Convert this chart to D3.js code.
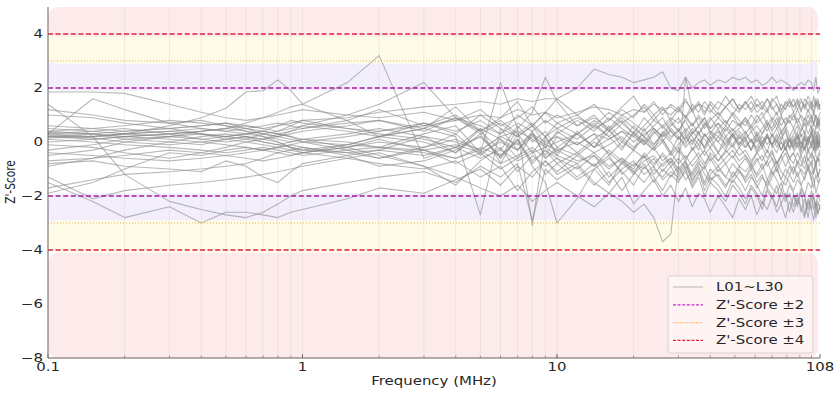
<!DOCTYPE html>
<html><head><meta charset="utf-8">
<script src="https://cdn.jsdelivr.net/npm/d3@7"></script>
<style>
body{margin:0;background:#fff}
text{font-family:"DejaVu Sans",sans-serif;fill:#262626}
</style></head>
<body><svg id="c" width="837" height="393"></svg>
<script>
// ---------- data ----------
const freqs = [0.1,0.15,0.2,0.3,0.4,0.5,0.6,0.7,0.8,0.9, 1,1.5,2,3,4,5,6,7,8,9,
  10,12,14,16,18,20,22,24,26,28, 30,32,34,36,38,40,43,46,49,52,
  55,58,61,64,67,70,73,76,79,82, 85,88,91,94,97,100,102,104,106,108];

const L01 = [1.85,1.85,1.8,1.4,1.1,0.9,0.8,0.9,1.0,1.1, 1.2,1.0,0.9,1.1,0.8,1.0,0.9,1.2,1.0,1.1, 0.9,1.1,1.3,1.2,1.0,1.2,1.1,1.4,1.2,1.3, 1.1,1.5,1.2,1.4,1.3,1.1,1.5,1.3,1.6,1.2, 1.4,1.7,1.3,1.5,1.2,1.6,1.4,1.1,1.5,1.3, 1.6,1.2,1.5,1.3,1.7,1.4,1.1,1.5,1.3,1.4];
const L02 = [0.3,1.6,1.2,0.7,0.5,0.4,0.3,0.2,0.1,0.0, 0.1,0.3,0.5,0.2,0.0,-0.3,0.2,0.4,0.1,-0.2, 0.0,0.3,-0.2,0.1,0.4,0.2,-0.1,0.3,0.6,0.2, 0.4,0.1,0.5,0.3,0.7,0.4,0.2,0.6,0.3,0.5, 0.8,0.4,0.6,0.3,0.7,0.5,0.9,0.4,0.6,0.8, 0.5,0.9,0.6,0.3,0.8,0.5,0.7,1.0,0.6,0.8];
const L03 = [-0.5,-0.3,0.0,0.2,0.4,0.5,0.7,0.9,1.1,1.3, 1.4,2.2,3.2,-0.6,-0.2,0.5,-0.8,0.3,-0.4,0.2, -0.5,0.4,-0.2,0.6,0.1,-0.3,0.5,-0.1,0.3,0.0, -0.4,0.2,-0.1,0.4,-0.3,0.1,0.5,-0.2,0.3,-0.1, 0.2,-0.3,0.4,0.0,-0.4,0.3,-0.2,0.1,0.5,-0.3, 0.0,0.4,-0.3,0.2,-0.1,0.5,0.0,-0.4,0.3,0.1];
const L04 = [0.6,0.5,0.4,0.5,0.6,0.7,0.6,0.5,0.6,0.7, 0.8,0.9,1.1,1.3,1.4,1.5,1.4,1.6,1.5,1.6, 1.6,2.0,2.7,2.5,2.4,2.2,2.3,2.4,2.6,2.0, 1.9,2.4,2.0,2.2,2.3,2.1,2.3,2.2,2.4,2.3, 2.4,2.2,2.3,2.1,2.2,2.4,2.2,2.3,2.2,2.1, 1.9,2.1,2.2,2.1,2.3,2.2,1.9,2.4,1.8,2.0];
const L05 = [-1.5,-2.2,-2.8,-2.4,-3.0,-2.6,-2.6,-2.7,-2.8,-2.6, -2.5,-2.1,-1.7,-1.9,-1.4,-1.0,-1.6,-0.9,-1.3,-0.7, -1.1,-0.5,-0.9,-0.3,-0.7,-1.0,-0.4,-0.8,-0.5,-0.9, -0.6,-1.0,-0.7,-0.4,-0.8,-0.5,-0.9,-0.6,-0.3,-0.7, -0.5,-0.9,-0.6,-1.0,-0.7,-0.4,-0.8,-0.5,-0.9,-0.6, -0.8,-0.4,-0.7,-1.0,-0.6,-0.9,-0.5,-0.8,-0.6,-0.7];
const L06 = [-1.3,-2.1,-1.8,-1.6,-1.5,-1.4,-1.3,-1.2,-1.1,-1.0, -0.9,-0.6,-0.4,-0.9,-1.6,-0.7,-0.2,-1.1,-0.5,-0.9, -0.6,-1.3,-0.8,-1.5,-1.0,-0.7,-1.2,-0.9,-1.4,-1.1, -1.3,-0.9,-1.4,-1.1,-1.6,-1.2,-0.9,-1.3,-1.5,-1.1, -1.4,-1.0,-1.5,-1.2,-1.7,-1.3,-1.0,-1.4,-1.6,-1.2, -1.5,-1.1,-1.6,-1.3,-1.0,-1.4,-1.7,-1.2,-1.5,-1.3];
const L07 = [-1.9,-1.5,-1.0,-0.4,-0.5,-0.3,-0.2,-0.3,-0.4,-0.5, -0.4,-0.2,0.1,-0.3,-0.6,-0.2,-0.5,0.0,-0.7,-0.3, -0.8,-0.4,-0.9,-0.5,-1.2,-0.8,-1.0,-0.6,-1.1,-0.7, -1.2,-0.8,-1.3,-0.9,-1.5,-1.0,-1.3,-1.7,-1.1,-1.4, -1.8,-1.3,-1.6,-2.0,-1.4,-1.7,-1.9,-1.5,-2.1,-1.6, -1.9,-2.3,-1.7,-2.0,-2.5,-1.8,-2.1,-2.4,-1.9,-2.2];
const L08 = [1.4,0.2,-1.2,-2.2,-2.5,-2.7,-2.8,-2.6,-2.3,-2.0, -1.8,-1.5,-1.3,-1.1,-1.5,-0.9,-1.3,-0.8,-2.9,-1.0, -1.4,-0.9,-1.6,-1.1,-1.8,-1.2,-0.8,-1.5,-1.0,-1.3, -0.9,-1.4,-1.1,-0.7,-1.2,-1.5,-1.0,-1.3,-0.8,-1.1, -1.3,-0.9,-1.2,-0.8,-1.4,-1.0,-0.7,-1.1,-1.3,-0.9, -1.2,-0.8,-1.1,-1.4,-0.9,-1.2,-1.0,-0.7,-1.3,-1.0];
const L09 = [0.2,0.3,0.1,0.0,-0.1,0.1,0.2,0.0,-0.1,0.0, 0.1,-0.2,-0.5,-0.9,-1.3,-1.7,-2.0,-1.6,-2.2,-1.8, -1.5,-2.0,-2.4,-1.9,-2.2,-2.6,-2.3,-2.8,-3.7,-3.4, -0.9,2.4,1.2,0.6,0.9,0.3,0.7,0.2,0.5,0.1, 0.4,0.0,0.3,-0.2,0.2,-0.1,0.3,0.0,-0.3,0.1, -0.2,0.2,-0.1,0.3,-0.3,0.0,0.2,-0.2,0.1,-0.1];
const L10 = [0.4,0.3,0.2,0.3,0.4,0.5,0.4,0.3,0.2,0.3, 0.4,0.6,0.8,0.5,0.2,-2.7,0.5,-0.3,0.3,-0.5, 0.2,-0.4,0.1,0.5,-0.2,0.3,0.0,-0.3,0.4,0.1, 0.5,0.0,0.3,0.6,0.2,0.4,0.0,0.5,0.2,0.4, 0.1,0.4,0.0,0.3,0.6,0.2,0.5,0.1,0.4,0.0, 0.3,0.6,0.2,0.4,0.0,0.3,0.5,0.1,0.4,0.2];
const L11 = [0.2,0.2,0.3,0.4,0.3,0.2,0.1,0.0,-0.1,-0.2, -0.3,-0.1,0.2,0.0,-0.4,0.3,-0.6,0.5,-3.1,0.2, -0.4,0.3,-0.2,0.4,0.0,0.6,0.2,-0.1,0.3,0.7, 0.4,0.8,0.3,0.6,0.9,0.5,0.7,0.4,0.8,0.6, 0.9,0.5,0.8,1.1,0.6,0.9,0.7,1.0,0.6,0.9, 1.1,0.7,1.0,0.8,1.2,0.9,0.6,1.0,0.8,1.1];
const L12 = [-0.4,-0.5,-0.6,-0.7,-0.6,-0.5,-0.4,-0.3,-0.2,-0.1, -0.2,-0.5,-0.9,-0.7,-0.3,0.2,-0.6,0.1,-0.9,-1.5, -3.0,-2.1,-1.0,-1.6,-0.7,-1.2,-0.5,-0.9,-0.4,-0.8, -0.3,-0.7,-0.2,-0.6,-0.9,-0.4,-0.7,-0.3,-0.6,-0.2, -0.5,-0.8,-0.4,-0.7,-0.3,-0.6,-0.9,-0.5,-0.2,-0.6, -0.4,-0.8,-0.5,-0.2,-0.7,-0.4,-0.6,-0.9,-0.5,-0.3];
const L13 = [0.3,0.2,0.3,0.2,0.1,0.2,0.3,0.4,0.3,0.2, 0.1,0.0,-0.2,0.3,0.6,-0.4,2.2,0.5,1.1,2.4, 1.5,0.6,1.0,0.4,0.8,0.3,0.9,0.5,0.2,0.6, 0.9,0.4,0.7,0.3,0.6,0.9,0.5,0.8,0.4,0.7, 0.3,0.6,0.2,0.5,0.8,0.4,0.7,0.3,0.6,0.2, 0.5,0.1,0.4,0.7,0.3,0.6,0.2,0.5,0.8,0.4];
const L14 = [0.0,0.1,0.2,0.3,0.4,0.5,0.6,0.5,0.4,0.5, 0.6,1.0,1.4,2.2,0.9,0.4,-0.3,0.6,0.0,0.4, -0.2,0.3,0.7,0.2,-0.3,0.4,0.0,0.5,0.1,-0.4, 0.2,-0.2,0.1,-0.3,0.3,0.0,-0.4,0.2,-0.1,0.3, -0.2,0.1,-0.4,0.0,0.3,-0.1,0.2,-0.3,0.0,0.2, -0.1,0.3,0.0,-0.3,0.2,-0.2,0.1,0.4,-0.1,0.2];
const L15 = [0.5,0.4,0.3,0.6,0.9,1.25,1.85,1.9,2.3,1.9, 1.4,0.8,0.2,0.5,0.9,0.3,0.7,0.2,0.6,-0.1, 0.3,0.8,0.4,0.9,0.5,0.2,0.6,1.0,0.5,0.8, 0.4,0.9,0.6,1.0,0.7,0.5,0.9,0.6,1.1,0.8, 0.6,1.0,0.7,0.9,1.2,0.8,0.5,0.9,0.7,1.0, 0.8,1.2,0.9,0.6,1.0,0.7,1.1,0.8,0.5,0.9];
const L16 = [-0.8,-0.7,-0.9,-1.0,-1.1,-0.7,-0.9,-1.3,-1.5,-1.1, -0.8,-0.5,-0.3,0.2,-0.4,0.5,0.1,-0.6,0.3,-0.2, 0.4,-0.1,0.3,-0.5,0.0,-0.3,0.2,-0.2,0.1,-0.4, -0.1,0.3,-0.3,0.1,-0.2,0.2,-0.4,0.0,0.3,-0.2, 0.1,-0.3,0.2,-0.1,0.3,-0.2,0.0,0.4,-0.3,0.1, -0.2,0.2,-0.4,0.1,-0.1,0.3,-0.3,0.0,0.2,-0.2];
const L17 = [0.35,0.3,0.4,0.5,0.6,0.7,0.5,0.3,0.2,0.1, 0.0,-0.1,-0.2,-0.3,-0.1,-0.4,0.0,-0.3,0.2,-0.1, -0.3,0.0,-0.4,-0.1,0.2,-0.2,0.1,-0.3,0.0,-0.5, -0.2,-0.6,-0.3,-0.1,-0.5,-0.2,-0.7,-0.4,-0.1,-0.5, -0.3,-0.7,-0.4,-0.2,-0.6,-0.3,-0.8,-0.5,-0.2,-0.6, -0.4,-0.1,-0.5,-0.8,-0.3,-0.6,-0.2,-0.5,-0.7,-0.4];
const L18 = [0.25,0.15,0.0,-0.1,0.0,0.1,0.2,0.1,0.0,-0.2, -0.3,-0.4,-0.3,-0.5,-0.2,-0.6,-0.3,-0.7,-0.4,-0.2, -0.5,-0.8,-0.4,-0.9,-0.6,-1.1,-0.7,-0.5,-0.9,-0.6, -1.0,-0.7,-1.2,-0.8,-1.0,-0.6,-1.1,-0.8,-1.3,-0.9, -1.1,-0.8,-1.3,-1.0,-0.7,-1.2,-0.9,-1.4,-1.0,-1.2, -0.9,-1.3,-1.0,-1.2,-0.8,-1.4,-1.1,-0.9,-1.3,-1.0];
const L19 = [0.1,0.0,-0.1,-0.2,-0.3,-0.4,-0.3,-0.2,-0.3,-0.4, -0.5,-0.3,-0.2,-0.4,-0.6,-0.3,-0.8,-0.5,-0.2,-0.6, -0.3,-0.7,-0.5,-1.0,-0.6,-0.9,-0.5,-1.2,-0.8,-0.6, -1.1,-0.7,-1.5,-1.0,-1.8,-1.3,-1.6,-2.0,-1.4,-1.7, -2.1,-1.6,-1.9,-2.3,-1.7,-2.0,-2.4,-1.8,-2.2,-1.9, -2.4,-1.9,-2.6,-2.1,-2.8,-2.0,-2.5,-2.2,-2.7,-2.3];
const L20 = [-0.9,-0.6,-0.3,0.0,0.2,0.3,0.2,0.1,0.3,0.4, 0.5,0.7,0.8,0.4,0.9,0.6,0.3,0.7,0.4,0.8, 0.5,0.9,0.6,1.1,0.7,1.0,1.3,0.8,1.2,1.0, 1.3,0.9,1.2,1.5,1.1,1.4,1.0,1.3,1.6,1.2, 1.5,1.1,1.4,1.2,1.6,1.3,1.0,1.4,1.2,1.5, 1.3,1.6,1.2,1.4,1.1,1.5,1.3,1.6,1.2,1.4];
const L21 = [1.0,0.9,0.7,0.5,0.3,0.1,0.0,-0.1,-0.2,-0.3, -0.4,-0.2,0.0,-0.2,0.1,-0.3,0.2,-0.1,0.3,0.0, 0.2,-0.1,0.3,0.1,0.4,0.0,0.3,0.5,0.2,0.4, 0.1,0.4,0.0,0.3,0.1,-0.2,0.2,-0.1,0.3,0.0, -0.2,0.1,-0.3,0.0,0.2,-0.1,0.1,-0.3,0.0,-0.2, 0.1,-0.2,0.0,-0.3,0.2,-0.1,-0.3,0.1,-0.2,0.0];
const L22 = [1.2,1.0,0.8,0.7,0.8,0.6,0.5,0.4,0.6,0.8, 0.7,0.5,0.4,0.6,0.8,1.2,0.6,0.9,1.3,0.7, 1.0,0.6,0.9,0.5,1.0,0.7,0.4,0.8,0.6,0.9, 0.7,1.0,0.6,0.9,0.5,0.8,1.1,0.7,1.0,0.6, 0.9,0.6,1.0,0.7,0.4,0.8,1.1,0.6,0.9,0.7, 1.0,0.7,0.4,0.9,0.6,1.0,0.7,0.5,0.9,0.6];
const L23 = [0.3,0.4,0.5,0.3,0.1,0.0,0.1,0.3,0.4,0.6, 0.8,0.5,0.3,0.1,-0.2,0.2,-0.5,0.1,-0.8,-0.3, -0.6,-1.0,-0.5,-1.3,-0.8,-1.1,-1.5,-1.0,-1.3,-0.9, -1.4,-1.1,-1.6,-1.2,-0.9,-1.4,-1.2,-1.6,-1.3,-1.0, -1.5,-1.2,-1.7,-1.3,-1.6,-1.1,-1.4,-1.8,-1.3,-1.5, -1.8,-1.4,-1.6,-2.0,-1.5,-1.7,-1.3,-1.9,-1.6,-1.4];
const L24 = [-0.1,-0.2,-0.4,-0.6,-0.4,-0.2,0.0,0.1,0.2,0.4, 0.6,0.4,0.2,0.7,0.3,1.0,0.5,0.2,0.6,1.1, 0.7,1.0,0.5,0.8,1.2,0.9,1.4,1.0,1.3,0.8, 1.2,0.9,1.4,1.1,1.5,1.2,0.9,1.3,1.0,1.4, 1.2,1.5,1.1,1.3,1.6,1.2,1.4,1.0,1.3,1.5, 1.1,1.4,1.6,1.2,1.5,1.3,1.0,1.4,1.6,1.2];
const L25 = [-1.7,-1.4,-1.2,-1.1,-1.0,-0.9,-0.8,-0.6,-0.4,-0.3, -0.2,-0.4,-0.6,-0.3,-0.8,-0.4,-1.0,-0.6,-0.3,-1.2, -0.8,-1.4,-1.0,-0.6,-1.1,-1.6,-0.9,-1.3,-1.8,-1.2, -1.5,-1.0,-1.7,-1.3,-2.0,-1.5,-1.8,-2.2,-1.6,-1.9, -2.3,-1.7,-2.0,-2.5,-1.8,-2.1,-1.6,-2.3,-1.9,-2.6, -2.0,-2.4,-1.8,-2.7,-2.1,-2.5,-1.9,-2.8,-2.2,-2.5];
const L26 = [0.2,0.1,0.2,0.1,0.0,-0.1,-0.2,-0.3,-0.2,-0.1, 0.0,0.2,0.4,0.7,0.4,0.8,0.3,1.0,0.6,0.2, 0.7,0.3,0.8,0.4,0.9,0.5,0.2,0.6,0.9,0.4, 0.1,0.5,0.2,-0.1,0.3,0.0,0.4,0.1,-0.2,0.2, 0.0,-0.3,0.1,-0.2,0.2,-0.1,-0.4,0.0,-0.2,0.1, -0.3,0.0,-0.2,0.2,-0.4,-0.1,0.1,-0.3,0.0,-0.2];
const L27 = [-0.3,-0.1,0.1,0.2,0.3,0.2,0.3,0.4,0.3,0.2, 0.0,-0.3,-0.6,-0.2,0.3,-0.5,0.1,-0.3,0.4,-0.6, -0.2,-0.5,0.0,-0.4,-0.8,-0.3,-0.6,-0.2,-0.7,-0.4, -0.8,-0.5,-0.9,-0.6,-0.3,-0.7,-0.4,-0.8,-0.5,-0.9, -0.6,-1.0,-0.7,-0.5,-0.9,-0.6,-1.1,-0.7,-0.4,-0.8, -1.1,-0.7,-0.9,-0.5,-1.0,-0.7,-1.2,-0.8,-0.6,-0.9];
const L28 = [0.4,0.5,0.6,0.8,0.7,0.6,0.4,0.2,0.0,-0.2, -0.4,-0.1,0.2,0.5,1.3,0.4,0.9,1.5,0.6,1.1, 1.6,1.0,1.4,0.8,1.3,1.7,1.1,1.5,1.0,1.4, 1.2,1.6,1.1,1.4,1.0,1.5,1.2,1.7,1.3,1.1, 1.5,1.2,1.6,1.3,1.1,1.5,1.7,1.2,1.4,1.6, 1.3,1.5,1.1,1.6,1.4,1.2,1.7,1.3,1.5,1.2];
const L29 = [-0.7,-0.6,-0.5,-0.3,-0.4,-0.5,-0.6,-0.7,-0.6,-0.5, -0.4,-0.6,-0.8,-1.0,-0.7,-1.3,-0.9,-1.8,-1.1,-0.7, -1.2,-0.8,-1.5,-1.9,-1.3,-2.3,-1.8,-1.4,-2.0,-1.6, -2.2,-1.7,-2.4,-1.9,-2.1,-2.6,-2.0,-2.4,-2.8,-2.1, -2.5,-2.0,-2.7,-2.2,-2.5,-2.0,-2.6,-2.3,-2.8,-2.2, -2.6,-2.1,-2.4,-2.8,-2.2,-2.5,-2.9,-2.3,-2.6,-2.4];
const L30 = [0.15,0.2,0.3,0.4,0.5,0.4,0.5,0.6,0.7,0.6, 0.5,0.8,1.2,0.6,1.0,0.4,0.8,0.3,0.7,0.2, 0.5,0.1,0.6,0.2,0.7,0.3,-0.1,0.4,0.0,0.5, 0.2,-0.1,0.4,0.1,-0.2,0.3,0.0,-0.3,0.2,-0.1, 0.3,0.0,-0.2,0.2,-0.1,0.3,0.0,-0.3,0.1,-0.2, 0.2,-0.1,0.3,-0.2,0.1,0.4,-0.1,0.2,-0.3,0.1];

const seriesList = [L01,L02,L03,L04,L05,L06,L07,L08,L09,L10,L11,L12,L13,L14,L15,
                    L16,L17,L18,L19,L20,L21,L22,L23,L24,L25,L26,L27,L28,L29,L30];

const yTicks = [4,2,0,-2,-4,-6,-8];
const xTicks = [0.1,1,10,108];
const xTickLabels = ["0.1","1","10","108"];
const minorTicks = [0.2,0.3,0.4,0.5,0.6,0.7,0.8,0.9,1,2,3,4,5,6,7,8,9,10,20,30,40,50,60,70,80,90,100];
const thresholds = [
  {v:[4,-4], color:"#e0203f", dash:"5,2.6", w:1.3, label:"Z'-Score ±4"},
  {v:[3,-3], color:"#f2b04a", dash:"1,2", w:1, label:"Z'-Score ±3"},
  {v:[2,-2], color:"#a8189e", dash:"5,2.6", w:1.3, label:"Z'-Score ±2"}
];
// background zones: [low, high]
const zoneLavender = [[1.9,3.1],[-3.1,-1.9]];
const zoneYellow = [[2.9,4.1],[-4.1,-2.9]];
const zonePink = [[3.9,5],[-8,-4.1]];

// ---------- chart ----------
const svg = d3.select("#c");
const x = d3.scaleLog().domain([0.1,108]).range([48,820]);
const y = d3.scaleLinear().domain([-8,5]).range([358,7]);
const SX = 1.3, FS = 11.5;

function zones(list, color){
  svg.append("g").selectAll("rect").data(list).join("rect")
    .attr("x", x(0.1)).attr("width", x(108)-x(0.1)-2)
    .attr("y", d=>y(d[1])).attr("height", d=>y(d[0])-y(d[1]))
    .attr("rx", 10).attr("fill", color);
}
zones(zoneLavender, "#f3eefc");
zones(zoneYellow, "#fefce8");
zones(zonePink, "#fdeaea");

// vertical minor grid
svg.append("g").selectAll("line").data(minorTicks).join("line")
  .attr("x1", d=>x(d)).attr("x2", d=>x(d))
  .attr("y1", y(5)).attr("y2", y(-8))
  .attr("stroke", "#d6cccc").attr("stroke-opacity", 0.35).attr("stroke-width", 1);

// data lines
const line = d3.line().x((d,i)=>x(freqs[i])).y(d=>y(d));
svg.append("g").selectAll("path").data(seriesList).join("path")
  .attr("d", d=>line(d))
  .attr("fill","none").attr("stroke","#8a8a8a").attr("stroke-opacity",0.6)
  .attr("stroke-width",1.1).attr("stroke-linejoin","round");

// threshold lines
thresholds.forEach(t=>{
  svg.append("g").selectAll("line").data(t.v).join("line")
    .attr("x1", x(0.1)).attr("x2", x(108))
    .attr("y1", d=>y(d)).attr("y2", d=>y(d))
    .attr("stroke", t.color).attr("stroke-width", t.w).attr("stroke-dasharray", t.dash);
});

// axes spines
svg.append("line").attr("x1",x(0.1)).attr("x2",x(0.1)).attr("y1",y(5)).attr("y2",y(-8))
  .attr("stroke","#6b6060").attr("stroke-width",1);
svg.append("line").attr("x1",x(0.1)).attr("x2",x(108)).attr("y1",y(-8)).attr("y2",y(-8))
  .attr("stroke","#6b6060").attr("stroke-width",1);

// x ticks
svg.append("g").selectAll("line").data(minorTicks).join("line")
  .attr("x1",d=>x(d)).attr("x2",d=>x(d)).attr("y1",y(-8)).attr("y2",y(-8)-2.5)
  .attr("stroke","#8a8080").attr("stroke-width",0.8);
svg.append("g").selectAll("line").data(xTicks).join("line")
  .attr("x1",d=>x(d)).attr("x2",d=>x(d)).attr("y1",y(-8)).attr("y2",y(-8)-4)
  .attr("stroke","#6b6060").attr("stroke-width",0.9);

// tick labels
svg.append("g").selectAll("text").data(xTicks).join("text")
  .attr("transform", d=>`translate(${x(d)},371) scale(${SX},1)`)
  .attr("text-anchor","middle").attr("font-size",FS)
  .text((d,i)=>xTickLabels[i]);
svg.append("g").selectAll("text").data(yTicks).join("text")
  .attr("transform", d=>`translate(43,${y(d)+4}) scale(${SX},1)`)
  .attr("text-anchor","end").attr("font-size",FS)
  .text(d=> d<0 ? "\u2212"+Math.abs(d) : String(d));

// axis labels
svg.append("text").attr("transform",`translate(434,385) scale(${SX},1)`)
  .attr("text-anchor","middle").attr("font-size",FS).text("Frequency (MHz)");
svg.append("text").attr("transform",`translate(15,182) rotate(-90) scale(0.92,${SX})`)
  .attr("text-anchor","middle").attr("font-size",FS).text("Z'-Score");

// legend
const lg = svg.append("g");
lg.append("rect").attr("x",668).attr("y",276).attr("width",145).attr("height",77).attr("rx",3)
  .attr("fill","#fff6f6").attr("fill-opacity",0.8).attr("stroke","#ddd2d2").attr("stroke-width",1);
const legendItems = [
  {label:"L01~L30", color:"#9a9a9a", dash:null, w:1, op:0.7},
  {label:thresholds[2].label, color:"#c42ad0", dash:"3,1.6", w:1.2, op:1},
  {label:thresholds[1].label, color:"#f2b04a", dash:"1,1.3", w:1.1, op:1},
  {label:thresholds[0].label, color:"#e0203f", dash:"3,1.6", w:1.2, op:1}
];
legendItems.forEach((it,i)=>{
  const yy = 287 + i*17.8;
  lg.append("line").attr("x1",673).attr("x2",703).attr("y1",yy).attr("y2",yy)
    .attr("stroke",it.color).attr("stroke-width",it.w).attr("stroke-opacity",it.op)
    .attr("stroke-dasharray",it.dash);
  lg.append("text").attr("transform",`translate(716,${yy+4}) scale(${SX},1)`)
    .attr("font-size",FS).text(it.label);
});
</script>
</body></html>
